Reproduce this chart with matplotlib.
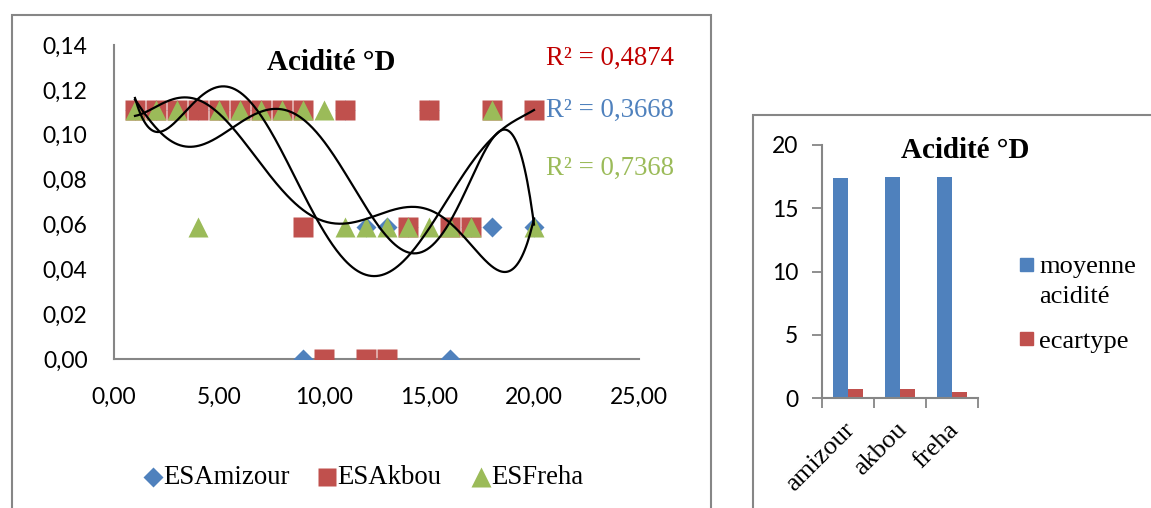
import numpy as np
import matplotlib
matplotlib.use("Agg")
import matplotlib.pyplot as plt
from matplotlib.patches import Rectangle
from matplotlib.lines import Line2D

# scatter data (x = sample number, y = acidity)
amizour_x = [1, 2, 3, 4, 5, 6, 7, 9, 11, 12, 13, 14, 15, 16, 17, 18, 20]
amizour_y = [0.111, 0.111, 0.111, 0.111, 0.111, 0.111, 0.111, 0.0,
             0.111, 0.059, 0.059, 0.059, 0.111, 0.0, 0.059, 0.059, 0.059]
akbou_x = [1, 2, 3, 4, 5, 6, 7, 8, 9, 9, 10, 11, 12, 13, 14, 15, 16, 17, 18, 20]
akbou_y = [0.111, 0.111, 0.111, 0.111, 0.111, 0.111, 0.111, 0.111, 0.111, 0.059,
           0.0, 0.111, 0.0, 0.0, 0.059, 0.111, 0.059, 0.059, 0.111, 0.111]
freha_x = [1, 2, 3, 4, 5, 6, 7, 8, 9, 10, 11, 12, 13, 14, 15, 16, 17, 18, 20]
freha_y = [0.111, 0.111, 0.111, 0.059, 0.111, 0.111, 0.111, 0.111, 0.111, 0.111,
           0.059, 0.059, 0.059, 0.059, 0.059, 0.059, 0.059, 0.111, 0.059]
series_names = ["ESAmizour", "ESAkbou", "ESFreha"]
r2_labels = ["R² = 0,4874", "R² = 0,3668", "R² = 0,7368"]

# bar chart data
sites = ["amizour", "akbou", "freha"]
moyenne = [17.37, 17.47, 17.47]
ecartype = [0.71, 0.72, 0.47]
bar_names = [["moyenne", "acidité"], ["ecartype"]]

BLUE = "#4F81BD"
RED = "#C0504D"
GREEN = "#9BBB59"
GREY = "#868686"
SERIF = "Liberation Serif"
SANS = "Lato"

W, H = 1151, 508
fig = plt.figure(figsize=(W / 100, H / 100), dpi=100)

def fx(px):
    return px / W

def fy(py):
    return 1 - py / H

# chart borders
fig.patches.append(Rectangle((fx(11.5), fy(530)), fx(710.5) - fx(11.5), fy(15) - fy(530),
                             transform=fig.transFigure, fill=False, ec=GREY, lw=1.5))
fig.patches.append(Rectangle((fx(752.5), fy(530)), fx(1170) - fx(752.5), fy(115) - fy(530),
                             transform=fig.transFigure, fill=False, ec=GREY, lw=1.5))

# ---------- left: scatter with poly trendlines ----------
ax = fig.add_axes([fx(114), fy(359), fx(639) - fx(114), fy(45) - fy(359)])
ax.plot(amizour_x, amizour_y, ls="none", marker="D", ms=10.2, color=BLUE, mec="none", zorder=3)
ax.plot(akbou_x, akbou_y, ls="none", marker="s", ms=14.4, color=RED, mec="none", zorder=4)
ax.plot(freha_x, freha_y, ls="none", marker="^", ms=15, color=GREEN, mec="none", zorder=5)

for xs, ys in [(amizour_x, amizour_y), (akbou_x, akbou_y), (freha_x, freha_y)]:
    coef = np.polyfit(xs, ys, 6)
    xx = np.linspace(min(xs), max(xs), 300)
    ax.plot(xx, np.polyval(coef, xx), color="black", lw=1.6, zorder=6)

ax.set_xlim(0, 25)
ax.set_ylim(0, 0.14)
ax.set_xticks(np.arange(0, 26, 5))
ax.set_yticks(np.arange(0, 0.141, 0.02))
ax.set_xticklabels([f"{v:.2f}".replace(".", ",") for v in np.arange(0, 26, 5)])
ax.set_yticklabels([f"{v:.2f}".replace(".", ",") for v in np.arange(0, 0.141, 0.02)])
ax.tick_params(length=0, labelsize=16.5)
ax.tick_params(axis="y", pad=19)
ax.tick_params(axis="x", pad=20)
for lab in ax.get_xticklabels() + ax.get_yticklabels():
    lab.set_fontfamily(SANS)
for s in ["top", "right"]:
    ax.spines[s].set_visible(False)
for s in ["left", "bottom"]:
    ax.spines[s].set_color(GREY)
    ax.spines[s].set_linewidth(1.5)
ax.patch.set_alpha(0)

fig.text(fx(331), fy(62), "Acidité °D", family=SERIF, weight="bold", fontsize=21,
         ha="center", va="center")
for lab, col, py in zip(r2_labels, ["#C00000", BLUE, GREEN], [58, 110, 168]):
    fig.text(fx(546), fy(py), lab, family=SERIF, fontsize=19.3, color=col,
             ha="left", va="center")

# legend of the scatter, laid out like the original
leg_marks = [("D", 10, BLUE, 153), ("s", 13, RED, 327), ("^", 14, GREEN, 481)]
for (mk, ms, col, px), name in zip(leg_marks, series_names):
    fig.add_artist(Line2D([fx(px)], [fy(477)], transform=fig.transFigure, ls="none",
                          marker=mk, ms=ms, color=col, mec="none"))
    fig.text(fx(px + 10), fy(477), name, family=SERIF, fontsize=19.3,
             ha="left", va="center")

# ---------- right: bar chart ----------
bx = fig.add_axes([fx(822), fy(398.3), fx(978) - fx(822), fy(145) - fy(398.3)])
pos = np.arange(len(sites))
bw = 0.287
bx.bar(pos - bw / 2, moyenne, bw, color=BLUE)
bx.bar(pos + bw / 2, ecartype, bw, color=RED)
bx.set_xlim(-0.5, 2.5)
bx.set_ylim(0, 20)
bx.set_yticks([0, 5, 10, 15, 20])
bx.set_xticks([-0.5, 0.5, 1.5, 2.5])
bx.set_xticklabels([])
bx.tick_params(axis="x", length=7, width=1.3, color=GREY, direction="out")
bx.tick_params(axis="y", length=7, width=1.3, color=GREY, direction="out",
               labelsize=16.5, pad=10)
for lab in bx.get_yticklabels():
    lab.set_fontfamily(SANS)
for i, name in enumerate(sites):
    bx.text(i - 0.08, -1.6, name, rotation=45, rotation_mode="anchor", ha="right", va="top",
            family=SERIF, fontsize=19)
for s in ["top", "right"]:
    bx.spines[s].set_visible(False)
for s in ["left", "bottom"]:
    bx.spines[s].set_color(GREY)
    bx.spines[s].set_linewidth(1.5)
bx.patch.set_alpha(0)

fig.text(fx(965), fy(151), "Acidité °D", family=SERIF, weight="bold", fontsize=21,
         ha="center", va="center")

# legend of the bars, square aligned with the first text line
for col, sq_y, lines, base_y in zip([BLUE, RED], [264.5, 338.5], bar_names, [273, 348]):
    fig.patches.append(Rectangle((fx(1020), fy(sq_y + 6.5)), fx(13), 13 / H,
                                 transform=fig.transFigure, color=col))
    for k, line in enumerate(lines):
        fig.text(fx(1039), fy(base_y + 30 * k), line, family=SERIF, fontsize=19,
                 ha="left", va="baseline")

fig.savefig("out.png", dpi=100)
